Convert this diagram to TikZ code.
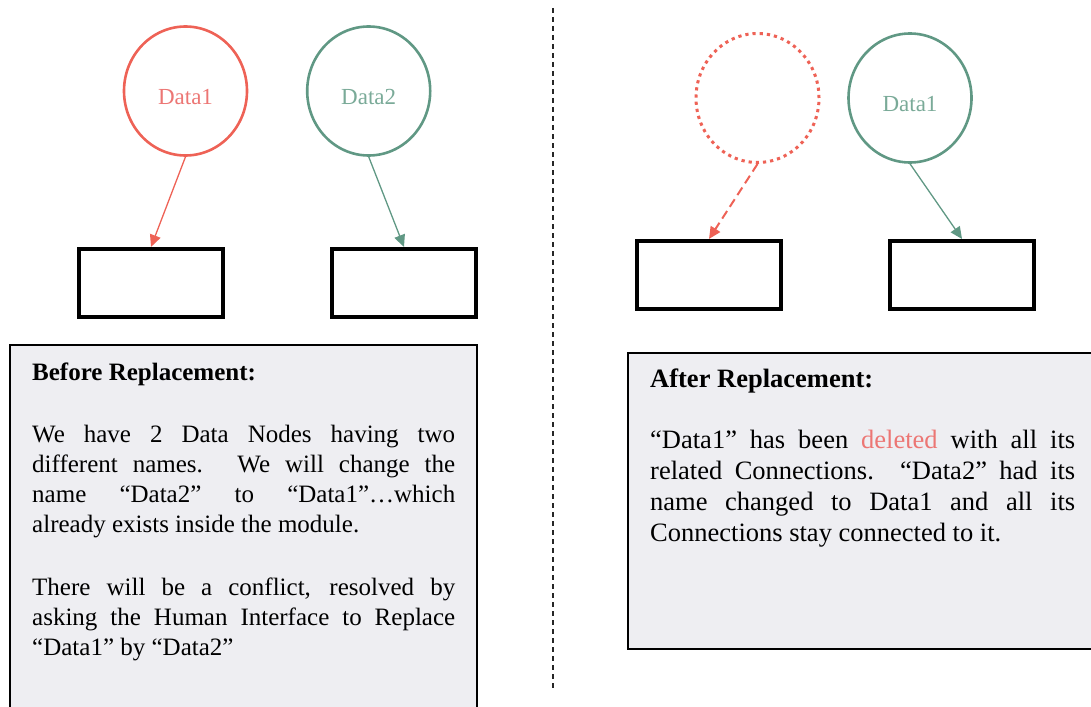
\documentclass[tikz,border=0pt]{standalone}
\usepackage{fontspec}
\setmainfont{Liberation Serif}
\usetikzlibrary{shapes.geometric,arrows.meta}
\definecolor{redc}{RGB}{238,98,86}
\definecolor{greenc}{RGB}{96,152,132}
\definecolor{redtext}{RGB}{236,118,116}
\definecolor{greentext}{RGB}{122,170,152}
\definecolor{panelfill}{RGB}{238,238,242}
\begin{document}
\begin{tikzpicture}[x=1pt,y=-1pt,
  datanode/.style={ellipse, minimum width=123pt, minimum height=129pt, inner sep=0pt,
    line width=2.6pt, font=\fontsize{23}{23}\selectfont, text height=28pt, text depth=0pt},
  targetbox/.style={rectangle, draw=black, line width=3.6pt, minimum width=144pt,
    minimum height=68.5pt, inner sep=0pt},
  link/.style={line width=1.3pt, -{Triangle[length=12pt,width=11pt]}},
  panel/.style={draw=black, line width=1.4pt, fill=panelfill},
  divider/.style={line width=2pt, dash pattern=on 5pt off 4pt, black!85},
  headL/.style={anchor=base west, inner sep=0pt, font=\bfseries\fontsize{25}{30.3}\selectfont},
  headR/.style={anchor=base west, inner sep=0pt, font=\bfseries\fontsize{26.5}{31.3}\selectfont},
  bodytext/.style={anchor=base west, inner sep=0pt}
]
\useasboundingbox (0,0) rectangle (1091,706);
\begin{scope}
\clip (0,0) rectangle (1091,706);

% divider
\coordinate (divtop) at (553,8);
\coordinate (divbot) at (553,690);
\draw[divider] (divtop) -- (divbot);

% ---------- left half ----------
\node[datanode, draw=redc, text=redtext] (d1) at (185.5,91) {Data1};
\node[datanode, draw=greenc, text=greentext] (d2) at (368.7,91) {Data2};
\node[targetbox] (b1) at (151,283) {};
\node[targetbox] (b2) at (404,283) {};
\draw[link, redc] (d1.south) -- (b1.north);
\draw[link, greenc] (d2.south) -- (b2.north);

\draw[panel] (10,345) rectangle (477,720);
\node[headL] (hL) at (32,380) {Before Replacement:};
\node[bodytext] (pL1) at (32,442) {\parbox[t]{423pt}{\fontsize{25}{30.3}\selectfont
\makebox[423pt][s]{We have 2 Data Nodes having two}\\
\makebox[423pt][s]{different names.  We will change the}\\
\makebox[423pt][s]{name “Data2” to “Data1”…which}\\
already exists inside the module.}};
\node[bodytext] (pL2) at (32,595) {\parbox[t]{423pt}{\fontsize{25}{30.3}\selectfont
\makebox[423pt][s]{There will be a conflict, resolved by}\\
\makebox[423pt][s]{asking the Human Interface to Replace}\\
“Data1” by “Data2”}};

% ---------- right half ----------
\node[datanode, draw=redc, line width=3pt, dash pattern=on 3.2pt off 4pt] (del) at (757.5,98) {};
\node[datanode, draw=greenc, text=greentext] (d3) at (910,98) {Data1};
\node[targetbox] (b3) at (709,275) {};
\node[targetbox] (b4) at (962,275) {};
\draw[link, redc, line width=2pt, dash pattern=on 9pt off 5pt] (del.south) -- (b3.north);
\draw[link, greenc] (d3.south) -- (b4.north);

\draw[panel] (628,353) rectangle (1100,649);
\node[headR] (hR) at (650,387) {After Replacement:};
\node[bodytext] (pR) at (650,448) {\parbox[t]{425pt}{\fontsize{26.5}{31.3}\selectfont
\makebox[425pt][s]{“Data1” has been \textcolor{redtext}{deleted} with all its}\\
\makebox[425pt][s]{related Connections.  “Data2” had its}\\
\makebox[425pt][s]{name changed to Data1 and all its}\\
Connections stay connected to it.}};
\end{scope}
\end{tikzpicture}
\end{document}
